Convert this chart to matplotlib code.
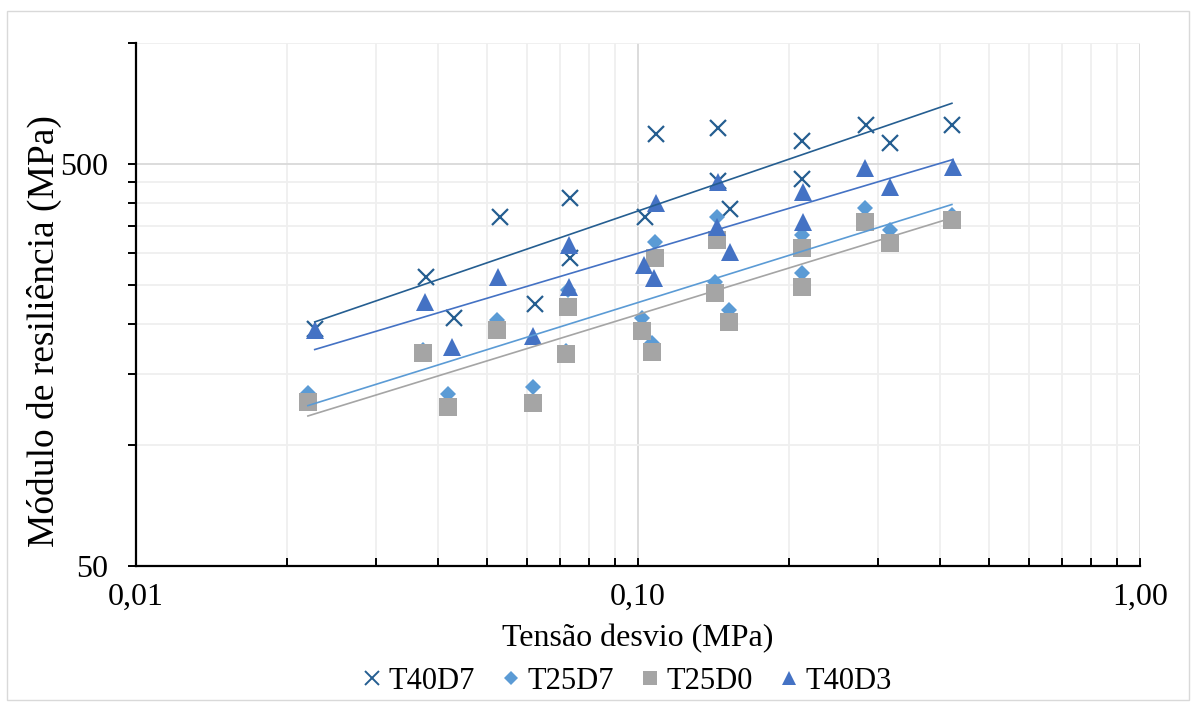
import numpy as np
import matplotlib.pyplot as plt
from matplotlib.ticker import LogLocator, FuncFormatter, NullFormatter
from matplotlib.patches import Rectangle
from matplotlib.lines import Line2D

plt.rcParams['font.family'] = ['Liberation Serif', 'DejaVu Serif']

# ensaios de módulo de resiliência (tensão desvio em MPa, MR em MPa)
t40d7_x = [0.0227, 0.0378, 0.0430, 0.0531, 0.0623, 0.0732, 0.0732, 0.1033, 0.1086,
           0.1443, 0.1443, 0.1525, 0.212, 0.212, 0.285, 0.318, 0.422]
t40d7_y = [194, 262, 207, 369, 224, 412, 292, 369, 594,
           615, 454, 386, 570, 459, 625, 564, 625]

t25d7_x = [0.0220, 0.0373, 0.0418, 0.0524, 0.0618, 0.0725, 0.0719, 0.1019, 0.1066,
           0.1081, 0.1423, 0.1436, 0.1518, 0.212, 0.212, 0.283, 0.318, 0.422]
t25d7_y = [135, 172, 134, 205, 139, 243, 171, 207, 179,
           320, 254, 369, 217, 333, 268, 389, 343, 373]

t25d0_x = [0.0220, 0.0373, 0.0418, 0.0524, 0.0618, 0.0725, 0.0719, 0.1019, 0.1066,
           0.1081, 0.1423, 0.1436, 0.1518, 0.212, 0.212, 0.283, 0.318, 0.422]
t25d0_y = [128, 169, 124, 193, 127, 220, 168, 192, 170,
           292, 239, 324, 202, 309, 247, 359, 318, 363]

t40d3_x = [0.0227, 0.0376, 0.0426, 0.0526, 0.0618, 0.0729, 0.0729, 0.1028, 0.1076,
           0.1086, 0.1443, 0.1436, 0.1525, 0.213, 0.213, 0.283, 0.318, 0.424]
t40d3_y = [193, 227, 175, 262, 187, 314, 247, 280, 260,
           400, 451, 349, 302, 426, 359, 489, 438, 492]

series = [
    ('T40D7', t40d7_x, t40d7_y, 'x', 11.5, '#255E91'),
    ('T25D7', t25d7_x, t25d7_y, 'D', 8.5, '#5B9BD5'),
    ('T25D0', t25d0_x, t25d0_y, 's', 12.5, '#A5A5A5'),
    ('T40D3', t40d3_x, t40d3_y, '^', 12.5, '#4472C4'),
]

fig = plt.figure(figsize=(11.96, 7.06), dpi=100)
ax = fig.add_axes([136/1196, 1-566/706, 1004/1196, 523/706])

for name, x, y, mk, ms, c in series:
    x = np.array(x); y = np.array(y)
    if mk == 'x':
        ax.plot(x, y, ls='none', marker=mk, ms=ms, mew=1.6, color=c, zorder=3)
    else:
        ax.plot(x, y, ls='none', marker=mk, ms=ms, mew=0, color=c, zorder=3)
    # linha de tendência do tipo potência
    b, a = np.polyfit(np.log10(x), np.log10(y), 1)
    xs = np.array([x.min(), x.max()])
    ax.plot(xs, 10**a * xs**b, color=c, lw=1.2, zorder=4)

ax.set_xscale('log')
ax.set_yscale('log')
ax.set_xlim(0.01, 1.0)
ax.set_ylim(50, 1000)

ax.xaxis.set_major_locator(LogLocator(base=10))
ax.xaxis.set_minor_locator(LogLocator(base=10, subs=np.arange(2, 10)))
ax.xaxis.set_major_formatter(FuncFormatter(lambda v, p: f'{v:.2f}'.replace('.', ',')))
ax.xaxis.set_minor_formatter(NullFormatter())
ax.yaxis.set_major_locator(LogLocator(base=10, subs=[0.5]))
ax.yaxis.set_minor_locator(LogLocator(base=10, subs=np.arange(1, 10) * 0.5))
ax.yaxis.set_major_formatter(FuncFormatter(lambda v, p: f'{v:.0f}'))
ax.yaxis.set_minor_formatter(NullFormatter())

ax.grid(True, which='major', color='#D9D9D9', lw=1.3, zorder=0)
ax.grid(True, which='minor', color='#EFEFEF', lw=1.3, zorder=0)
ax.set_axisbelow(True)

for s in ['top', 'right']:
    ax.spines[s].set_visible(False)
for s in ['left', 'bottom']:
    ax.spines[s].set_linewidth(1.6)
    ax.spines[s].set_color('black')

ax.tick_params(axis='x', which='both', direction='in', length=6, width=1.4,
               labelsize=23, pad=12)
ax.tick_params(axis='y', which='both', direction='out', length=6, width=1.4,
               labelsize=23, pad=14)

ax.set_xlabel('Tensão desvio (MPa)', fontsize=23, labelpad=9)
ax.set_ylabel('Módulo de resiliência (MPa)', fontsize=27)
ax.yaxis.set_label_coords(-0.074, 0.45)

handles = [Line2D([], [], ls='none', marker=mk, ms=ms * 0.85, mew=1.4 if mk == 'x' else 0,
                  color=c) for _, _, _, mk, ms, c in series]
fig.legend(handles, [s[0] for s in series], loc='center', ncol=4, frameon=False,
           bbox_to_anchor=(0.522, 0.035), fontsize=22, handletextpad=0.02,
           columnspacing=0.7, handlelength=1.0)

fig.add_artist(Rectangle((7/1196, 6/706), 1182/1196, 689/706, transform=fig.transFigure,
                         fill=False, ec='#D9D9D9', lw=1))

fig.savefig('out.png', dpi=100)
